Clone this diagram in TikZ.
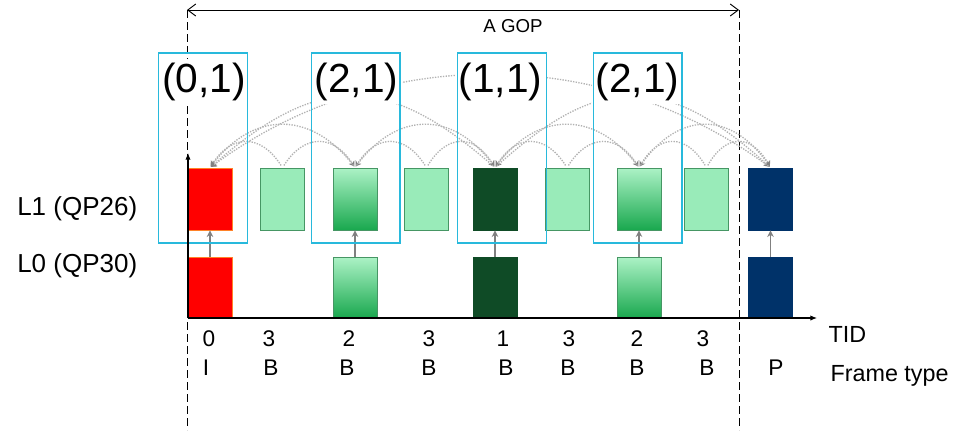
\documentclass[tikz,border=0pt]{standalone}
\usepackage{fontspec}
\setmainfont{Liberation Sans}
\usetikzlibrary{arrows.meta,calc}

\definecolor{mint}{RGB}{153,235,185}
\definecolor{mintline}{RGB}{70,150,100}
\definecolor{gradtop}{RGB}{172,242,198}
\definecolor{gradbot}{RGB}{25,168,78}
\definecolor{dkgreen}{RGB}{15,75,38}
\definecolor{navy}{RGB}{0,50,105}
\definecolor{cyanbox}{RGB}{40,185,220}
\definecolor{redline}{RGB}{255,130,40}

\tikzset{
  frm/.style={line width=0.5pt, minimum width=33pt, minimum height=46.5pt, inner sep=0pt},
  ifrm/.style={frm, fill=red, draw=redline},
  bfrm/.style={frm, fill=mint, draw=mintline},
  gfrm/.style={frm, top color=gradtop, bottom color=gradbot, draw=mintline},
  dfrm/.style={frm, fill=dkgreen, draw=dkgreen},
  pfrm/.style={frm, fill=navy, draw=navy},
  grp/.style={draw=cyanbox, line width=1pt, minimum width=66.5pt, minimum height=142.5pt, inner sep=0pt},
  tidlab/.style={font=\fontsize{30.5}{36}\selectfont, anchor=base, inner sep=3pt, fill=white},
  refarc/.style={gray!60, line width=1pt, densely dotted, shorten <=2pt, shorten >=1pt,
    -{Stealth[length=4pt, width=5pt, gray]}},
  uparr/.style={gray, line width=1.1pt, -{Stealth[length=5pt, width=5pt]}},
  rowlab/.style={font=\fontsize{17}{20}\selectfont, anchor=base, inner sep=1pt},
  sidelab/.style={font=\fontsize{19.5}{23}\selectfont, anchor=base west, inner sep=0pt},
}

\begin{document}
\begin{tikzpicture}[x=0.75pt, y=-0.75pt]
  \useasboundingbox (0,0) rectangle (966,430);

  % GOP limits
  \coordinate (gl) at (187,10);
  \coordinate (gr) at (739,10);
  \draw[dash pattern=on 6pt off 3pt, line width=0.7pt] (gl) -- (gl |- 0,430);
  \draw[dash pattern=on 6pt off 3pt, line width=0.7pt] (gr) -- (gr |- 0,430);
  \draw[line width=0.7pt, {Straight Barb[length=6pt, width=9pt]}-{Straight Barb[length=6pt, width=9pt]}] (gl) -- (gr);
  \node[font=\fontsize{14}{16}\selectfont, anchor=base] (gop) at (513,32) {A GOP};

  % L1 frames
  \foreach \i/\x/\s in {0/210/ifrm, 1/282.5/bfrm, 2/355/gfrm, 3/426.5/bfrm, 4/495/dfrm,
      5/567/bfrm, 6/639/gfrm, 7/706.5/bfrm, 8/770.5/pfrm} {
    \node[\s] (t\i) at (\x,199) {};
  }
  % L0 frames
  \foreach \i/\x/\s in {0/210/ifrm, 2/355/gfrm, 4/495/dfrm, 6/639/gfrm, 8/770.5/pfrm} {
    \node[\s, minimum height=45.75pt] (b\i) at (\x,287.5) {};
    \draw[uparr] (b\i.north) -- (t\i.south);
  }

  % Prediction arcs
  \foreach \a/\b/\f/\h in {1/0/0.3/34, 1/2/0.3/34, 3/2/0.3/34, 3/4/0.3/34,
      5/4/0.3/34, 5/6/0.3/34, 7/6/0.3/34, 7/8/0.3/34,
      2/0/0.3/57, 2/4/0.3/57, 6/4/0.3/57, 6/8/0.3/57,
      4/0/0.38/95, 4/8/0.38/95, 8/0/0.3/124} {
    \draw[refarc] (t\a.north) .. controls ($(t\a.north)!\f!(t\b.north)+(0,-\h)$)
      and ($(t\b.north)!\f!(t\a.north)+(0,-\h)$) .. (t\b.north);
  }

  % (TID,layer) labels and boxes
  \foreach \x/\t [count=\i] in {204/{(0,1)}, 356.5/{(2,1)}, 500.5/{(1,1)}, 637.5/{(2,1)}} {
    \node[tidlab] (lab\i) at (\x,92) {\t};
  }
  \foreach \x [count=\i] in {203, 355.5, 502, 637.5} {
    \node[grp] (g\i) at (\x,148) {};
  }

  % Axes
  \coordinate (o) at (188,318);
  \coordinate (ytop) at (188,153);
  \coordinate (xend) at (817,318);
  \draw[line width=0.8pt, -{Latex[length=5pt, width=4pt]}] (o) -- (ytop);
  \draw[line width=0.8pt, -{Latex[length=5pt, width=4pt]}] (o) -- (xend);

  % Layer names
  \node[sidelab] (l1) at (17,215) {L1 (QP26)};
  \node[sidelab] (l0) at (17,272) {L0 (QP30)};

  % TID and frame type rows
  \foreach \x/\t [count=\i] in {209/0, 269/3, 349/2, 429/3, 503/1, 569/3, 637/2, 703/3} {
    \node[rowlab] (tid\i) at (\x,346) {\t};
  }
  \foreach \x/\t [count=\i] in {206/I, 271/B, 347/B, 429/B, 506/B, 568/B, 637/B, 707/B, 776/P} {
    \node[rowlab] (ft\i) at (\x,375) {\t};
  }
  \node[rowlab, anchor=base west, font=\fontsize{17.5}{20}\selectfont] (tidname) at (827,342) {TID};
  \node[rowlab, anchor=base west, font=\fontsize{17.5}{20}\selectfont] (ftname) at (829,381) {Frame type};
\end{tikzpicture}
\end{document}
